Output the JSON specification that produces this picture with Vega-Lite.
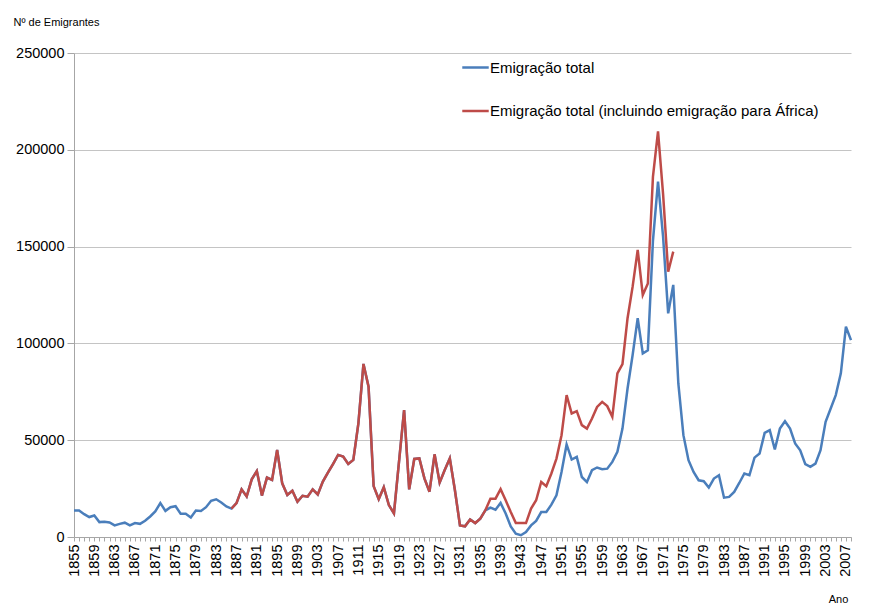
{
  "$schema": "https://vega.github.io/schema/vega-lite/v6.json",
  "autosize": {"type": "none"},
  "width": 777,
  "height": 484,
  "padding": {"top": 53, "left": 74, "right": 25, "bottom": 69},
  "background": "white",
  "config": {
    "view": {"stroke": null},
    "font": "Liberation Sans",
    "axis": {"labelFont": "Liberation Sans", "titleFont": "Liberation Sans", "labelColor": "#000", "titleColor": "#000", "titleFontWeight": "normal"}
  },
  "datasets": {
    "total": [
      {"a":1855,"v":13700},{"a":1856,"v":13700},{"a":1857,"v":11800},{"a":1858,"v":10300},{"a":1859,"v":11100},
      {"a":1860,"v":7700},{"a":1861,"v":7900},{"a":1862,"v":7500},{"a":1863,"v":6000},{"a":1864,"v":6800},
      {"a":1865,"v":7400},{"a":1866,"v":6000},{"a":1867,"v":7200},{"a":1868,"v":6800},{"a":1869,"v":8400},
      {"a":1870,"v":10600},{"a":1871,"v":13200},{"a":1872,"v":17500},{"a":1873,"v":13500},{"a":1874,"v":15400},
      {"a":1875,"v":15900},{"a":1876,"v":12000},{"a":1877,"v":12000},{"a":1878,"v":10100},{"a":1879,"v":13700},
      {"a":1880,"v":13400},{"a":1881,"v":15400},{"a":1882,"v":18700},{"a":1883,"v":19500},{"a":1884,"v":17800},
      {"a":1885,"v":15800},{"a":1886,"v":14700},{"a":1887,"v":17500},{"a":1888,"v":24600},{"a":1889,"v":20900},
      {"a":1890,"v":29800},{"a":1891,"v":34100},{"a":1892,"v":21400},{"a":1893,"v":30700},{"a":1894,"v":29500},
      {"a":1895,"v":45000},{"a":1896,"v":27700},{"a":1897,"v":21700},{"a":1898,"v":23900},{"a":1899,"v":18200},
      {"a":1900,"v":21300},{"a":1901,"v":20800},{"a":1902,"v":24600},{"a":1903,"v":22000},{"a":1904,"v":28600},
      {"a":1905,"v":33200},{"a":1906,"v":37700},{"a":1907,"v":42400},{"a":1908,"v":41500},{"a":1909,"v":37700},
      {"a":1910,"v":39800},{"a":1911,"v":58700},{"a":1912,"v":89400},{"a":1913,"v":77600},{"a":1914,"v":26300},
      {"a":1915,"v":19500},{"a":1916,"v":25700},{"a":1917,"v":16500},{"a":1918,"v":12200},{"a":1919,"v":38900},
      {"a":1920,"v":65600},{"a":1921,"v":24600},{"a":1922,"v":40300},{"a":1923,"v":40600},{"a":1924,"v":30300},
      {"a":1925,"v":23400},{"a":1926,"v":42700},{"a":1927,"v":28100},{"a":1928,"v":34600},{"a":1929,"v":40600},
      {"a":1930,"v":24300},{"a":1931,"v":6000},{"a":1932,"v":5500},{"a":1933,"v":9000},{"a":1934,"v":7200},
      {"a":1935,"v":9500},{"a":1936,"v":13800},{"a":1937,"v":15200},{"a":1938,"v":14100},{"a":1939,"v":17600},
      {"a":1940,"v":12100},{"a":1941,"v":5500},{"a":1942,"v":1700},{"a":1943,"v":900},{"a":1944,"v":2600},
      {"a":1945,"v":6000},{"a":1946,"v":8300},{"a":1947,"v":12900},{"a":1948,"v":12900},{"a":1949,"v":16700},
      {"a":1950,"v":21500},{"a":1951,"v":33600},{"a":1952,"v":47800},{"a":1953,"v":40000},{"a":1954,"v":41400},
      {"a":1955,"v":31000},{"a":1956,"v":28400},{"a":1957,"v":34500},{"a":1958,"v":35900},{"a":1959,"v":35000},
      {"a":1960,"v":35300},{"a":1961,"v":38800},{"a":1962,"v":44000},{"a":1963,"v":56000},{"a":1964,"v":76700},
      {"a":1965,"v":94000},{"a":1966,"v":113000},{"a":1967,"v":94800},{"a":1968,"v":96500},{"a":1969,"v":153000},
      {"a":1970,"v":183600},{"a":1971,"v":155000},{"a":1972,"v":115500},{"a":1973,"v":130200},{"a":1974,"v":79300},
      {"a":1975,"v":52600},{"a":1976,"v":39700},{"a":1977,"v":33600},{"a":1978,"v":29300},{"a":1979,"v":28800},
      {"a":1980,"v":25500},{"a":1981,"v":30200},{"a":1982,"v":31900},{"a":1983,"v":20300},{"a":1984,"v":20700},
      {"a":1985,"v":23300},{"a":1986,"v":27900},{"a":1987,"v":32800},{"a":1988,"v":31900},{"a":1989,"v":41000},
      {"a":1990,"v":43100},{"a":1991,"v":53800},{"a":1992,"v":55200},{"a":1993,"v":45200},{"a":1994,"v":56000},
      {"a":1995,"v":59800},{"a":1996,"v":56000},{"a":1997,"v":48300},{"a":1998,"v":44800},{"a":1999,"v":37600},
      {"a":2000,"v":36200},{"a":2001,"v":37900},{"a":2002,"v":44800},{"a":2003,"v":59500},{"a":2004,"v":66400},
      {"a":2005,"v":73300},{"a":2006,"v":84500},{"a":2007,"v":108600},{"a":2008,"v":101700}
    ],
    "africa": [
      {"a":1886,"v":14700},{"a":1887,"v":17500},{"a":1888,"v":24600},{"a":1889,"v":20900},
      {"a":1890,"v":29800},{"a":1891,"v":34100},{"a":1892,"v":21400},{"a":1893,"v":30700},{"a":1894,"v":29500},
      {"a":1895,"v":45000},{"a":1896,"v":27700},{"a":1897,"v":21700},{"a":1898,"v":23900},{"a":1899,"v":18200},
      {"a":1900,"v":21300},{"a":1901,"v":20800},{"a":1902,"v":24600},{"a":1903,"v":22000},{"a":1904,"v":28600},
      {"a":1905,"v":33200},{"a":1906,"v":37700},{"a":1907,"v":42400},{"a":1908,"v":41500},{"a":1909,"v":37700},
      {"a":1910,"v":39800},{"a":1911,"v":58700},{"a":1912,"v":89400},{"a":1913,"v":77600},{"a":1914,"v":26300},
      {"a":1915,"v":19500},{"a":1916,"v":25700},{"a":1917,"v":16500},{"a":1918,"v":12200},{"a":1919,"v":38900},
      {"a":1920,"v":65600},{"a":1921,"v":24600},{"a":1922,"v":40300},{"a":1923,"v":40600},{"a":1924,"v":30300},
      {"a":1925,"v":23400},{"a":1926,"v":42700},{"a":1927,"v":28100},{"a":1928,"v":34600},{"a":1929,"v":40600},
      {"a":1930,"v":24300},{"a":1931,"v":6000},{"a":1932,"v":5500},{"a":1933,"v":9000},{"a":1934,"v":7200},
      {"a":1935,"v":9500},{"a":1936,"v":13800},{"a":1937,"v":19800},{"a":1938,"v":19800},{"a":1939,"v":24700},
      {"a":1940,"v":19000},{"a":1941,"v":12900},{"a":1942,"v":7200},{"a":1943,"v":7200},{"a":1944,"v":7200},
      {"a":1945,"v":14700},{"a":1946,"v":19000},{"a":1947,"v":28400},{"a":1948,"v":26200},{"a":1949,"v":32800},
      {"a":1950,"v":40500},{"a":1951,"v":52600},{"a":1952,"v":73300},{"a":1953,"v":63800},{"a":1954,"v":65000},
      {"a":1955,"v":57800},{"a":1956,"v":56000},{"a":1957,"v":61200},{"a":1958,"v":67200},{"a":1959,"v":69800},
      {"a":1960,"v":67600},{"a":1961,"v":62100},{"a":1962,"v":84500},{"a":1963,"v":89300},{"a":1964,"v":113000},
      {"a":1965,"v":129300},{"a":1966,"v":148300},{"a":1967,"v":125000},{"a":1968,"v":131000},{"a":1969,"v":186000},
      {"a":1970,"v":209500},{"a":1971,"v":177000},{"a":1972,"v":137000},{"a":1973,"v":147400}
    ]
  },
  "encoding": {
    "x": {
      "field": "a", "type": "quantitative",
      "scale": {"domain": [1855, 2008], "nice": false, "zero": false},
      "axis": {
        "tickCount": 154, "format": "d", "grid": false,
        "labelExpr": "(datum.value - 1855) % 4 === 0 ? datum.label : ''",
        "labelOverlap": false, "labelFlush": false, "labelBound": false,
        "labelAngle": 270, "labelFontSize": 14.5, "labelPadding": 3,
        "tickSize": 4, "tickColor": "#a6a6a6", "domainColor": "#a6a6a6",
        "title": "Ano", "titleFontSize": 11, "titleX": 764, "titleY": 62,
        "titleAlign": "center", "titleBaseline": "middle"
      }
    },
    "y": {
      "field": "v", "type": "quantitative",
      "scale": {"domain": [0, 250000], "nice": false},
      "axis": {
        "values": [0, 50000, 100000, 150000, 200000, 250000], "format": "d",
        "grid": true, "gridColor": "#c4c4c4", "gridWidth": 1,
        "domainColor": "#a6a6a6", "tickColor": "#a6a6a6", "tickSize": 7,
        "labelFontSize": 14.5, "labelPadding": 3,
        "title": "Nº de Emigrantes", "titleAngle": 0, "titleFontSize": 11,
        "titleX": -61, "titleY": -31, "titleAlign": "left", "titleBaseline": "middle"
      }
    }
  },
  "layer": [
    {
      "data": {"name": "total"},
      "mark": {"type": "line", "strokeWidth": 2.5},
      "encoding": {
        "color": {
          "datum": "Emigração total",
          "scale": {"domain": ["Emigração total", "Emigração total (incluindo emigração para África)"], "range": ["#4a7ebb", "#be4b48"]},
          "legend": {
            "orient": "none", "legendX": 387, "legendY": 0, "title": null,
            "symbolType": "stroke", "symbolSize": 700, "symbolStrokeWidth": 2.5,
            "labelFontSize": 15, "labelFont": "Liberation Sans", "labelColor": "#000",
            "labelOffset": 0, "rowPadding": 20.5, "labelLimit": 500
          }
        }
      }
    },
    {
      "data": {"name": "africa"},
      "mark": {"type": "line", "strokeWidth": 2.5},
      "encoding": {
        "color": {"datum": "Emigração total (incluindo emigração para África)"}
      }
    }
  ]
}
